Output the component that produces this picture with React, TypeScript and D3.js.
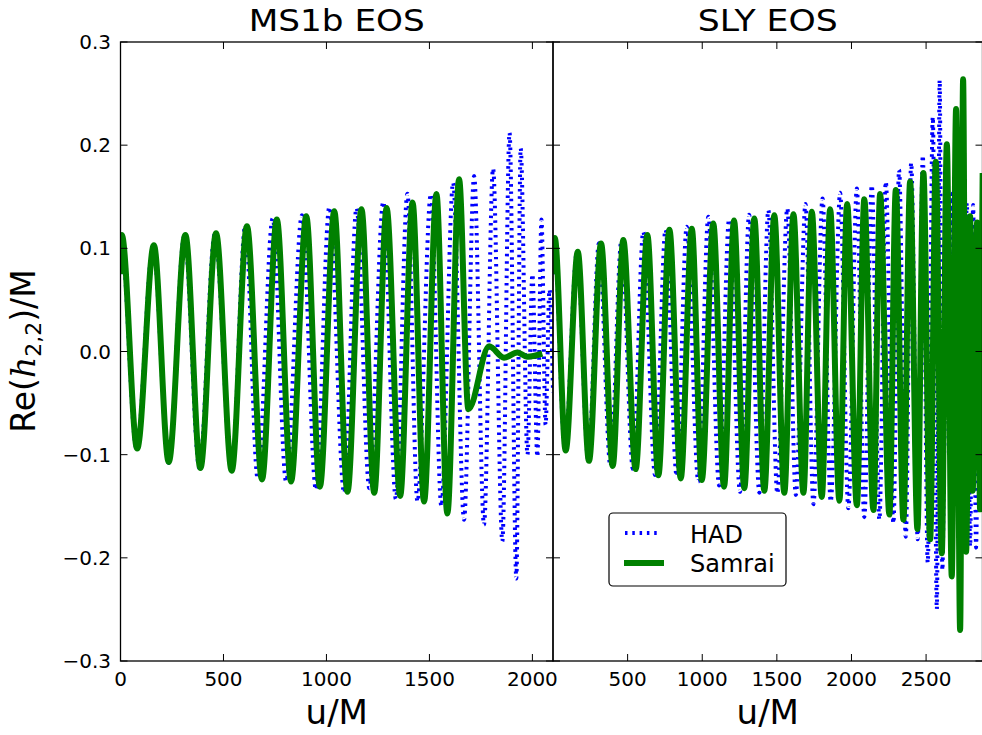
import React from "react";
import * as d3 from "d3";

const W = 982;
const H = 735;

// ---- Data: extrema of Re(h22)/M vs u/M ----
// MS1b EOS, HAD (dotted blue)
const ms1bHadU = [0, 2, 78, 158, 234, 310, 383, 458, 540, 606, 666, 739, 804, 881, 949, 1014, 1086, 1146, 1208, 1276, 1337, 1393, 1442, 1507, 1558, 1615, 1668, 1717, 1765, 1809, 1854, 1889, 1922, 1943, 1976, 2000, 2024, 2044, 2064, 2083, 2100];
const ms1bHadV = [0.075, 0.112, -0.094, 0.102, -0.108, 0.112, -0.113, 0.114, -0.116, 0.1225, -0.123, 0.129, -0.126, 0.132, -0.134, 0.14, -0.137, 0.139, -0.1325, 0.145, -0.143, 0.153, -0.1455, 0.1526, -0.15, 0.1636, -0.163, 0.17, -0.168, 0.1775, -0.184, 0.212, -0.22, 0.197, -0.1, 0.075, -0.102, 0.128, -0.071, 0.06, -0.04];
// MS1b EOS, Samrai (solid green)
const ms1bSamraiU = [0, 6, 81, 162, 234, 315, 388, 464, 540, 614, 687, 759, 828, 902, 968, 1038, 1102, 1170, 1232, 1292, 1358, 1418, 1474, 1534, 1587, 1644, 1689, 1790, 1862, 1927, 1974, 2048];
const ms1bSamraiV = [0.075, 0.113, -0.094, 0.103, -0.107, 0.113, -0.113, 0.1145, -0.1155, 0.1215, -0.124, 0.128, -0.126, 0.131, -0.131, 0.136, -0.136, 0.138, -0.137, 0.139, -0.14, 0.1445, -0.1455, 0.1526, -0.157, 0.167, -0.056, 0.005, -0.006, -0.001, -0.005, -0.002];
// SLY EOS, HAD (dotted blue)
const slyHadU = [0, 8, 80, 161, 237, 308, 385, 459, 536, 605, 684, 754, 829, 896, 974, 1041, 1113, 1180, 1253, 1314, 1383, 1443, 1503, 1570, 1627, 1692, 1745, 1806, 1861, 1924, 1979, 2036, 2086, 2136, 2187, 2230, 2281, 2319, 2364, 2400, 2444, 2478, 2511, 2545, 2572, 2591, 2609, 2634, 2654, 2676, 2701, 2721, 2745, 2773, 2795, 2815, 2835, 2855, 2879];
const slyHadV = [0.075, 0.11, -0.094, 0.097, -0.105, 0.105, -0.111, 0.108, -0.114, 0.116, -0.1197, 0.118, -0.121, 0.121, -0.126, 0.1306, -0.13, 0.128, -0.136, 0.1325, -0.137, 0.137, -0.1375, 0.1388, -0.139, 0.143, -0.148, 0.1484, -0.1455, 0.1539, -0.152, 0.158, -0.1607, 0.161, -0.163, 0.1645, -0.1665, 0.176, -0.1795, 0.183, -0.182, 0.19, -0.2046, 0.2275, -0.2498, 0.263, -0.212, 0.12, -0.1, 0.153, -0.12, 0.13, -0.15, 0.144, -0.189, 0.142, -0.19, 0.08, -0.1];
// SLY EOS, Samrai (solid green)
const slySamraiU = [0, 12, 85, 166, 241, 322, 400, 471, 554, 632, 706, 780, 856, 930, 997, 1074, 1146, 1213, 1282, 1349, 1416, 1483, 1550, 1611, 1678, 1734, 1801, 1857, 1919, 1971, 2036, 2086, 2147, 2192, 2254, 2297, 2348, 2393, 2442, 2482, 2527, 2565, 2605, 2639, 2672, 2701, 2728, 2748, 2768, 2795, 2812, 2842, 2862, 2879];
const slySamraiV = [0.075, 0.11, -0.096, 0.0967, -0.106, 0.1048, -0.111, 0.108, -0.114, 0.113, -0.12, 0.118, -0.123, 0.119, -0.1245, 0.124, -0.131, 0.127, -0.1326, 0.129, -0.135, 0.132, -0.137, 0.133, -0.137, 0.1355, -0.141, 0.138, -0.1446, 0.143, -0.149, 0.1475, -0.1536, 0.1526, -0.158, 0.1565, -0.163, 0.1645, -0.172, 0.173, -0.182, 0.184, -0.1955, 0.201, -0.218, 0.235, -0.27, 0.264, -0.194, 0.131, -0.135, 0.125, -0.153, 0.173];

const ms1bTicks = [0, 500, 1000, 1500, 2000];
const slyTicks = [500, 1000, 1500, 2000, 2500];
const slyTopTicks = [500, 1000, 1500, 2000, 2500];
const yTicks = [-0.3, -0.2, -0.1, 0.0, 0.1, 0.2, 0.3];
const titles = ["MS1b EOS", "SLY EOS"];
const seriesNames = ["HAD", "Samrai"];
const xLabel = "u/M";

const FONT = "DejaVu Sans, Verdana, sans-serif";
const BLUE = "#0000ff";
const GREEN = "#008000";

const yScale = d3.scaleLinear().domain([-0.3, 0.3]).range([661, 42]);

type Panel = {
  key: string;
  title: string;
  titleWidth: number;
  x: d3.ScaleLinear<number, number>;
  ticks: number[];
  labels: number[];
  had: [number, number][];
  samrai: [number, number][];
};

const zip = (u: number[], v: number[]) => u.map((d, i) => [d, v[i]] as [number, number]);

const panels: Panel[] = [
  {
    key: "ms1b",
    title: titles[0],
    titleWidth: 176,
    x: d3.scaleLinear().domain([0, 2100]).range([120.5, 553]),
    ticks: ms1bTicks,
    labels: ms1bTicks,
    had: zip(ms1bHadU, ms1bHadV),
    samrai: zip(ms1bSamraiU, ms1bSamraiV),
  },
  {
    key: "sly",
    title: titles[1],
    titleWidth: 140,
    x: d3.scaleLinear().domain([0, 2878]).range([553, 982.5]),
    ticks: slyTopTicks,
    labels: slyTicks,
    had: zip(slyHadU, slyHadV),
    samrai: zip(slySamraiU, slySamraiV),
  },
];

const fmtY = (v: number) => {
  const s = Math.abs(v).toFixed(1);
  return v < -1e-9 ? "\u2212" + s : s;
};

export default function App() {
  const top = 42;
  const bottom = 661;
  const tickLen = 7;
  return (
    <svg
      width={W}
      height={H}
      viewBox={`0 0 ${W} ${H}`}
      style={{ position: "absolute", left: 0, top: 0, background: "#fff" }}
      fontFamily={FONT}
    >
      <rect x={0} y={0} width={W} height={H} fill="#fff" />
      <defs>
        {panels.map((p) => (
          <clipPath id={`clip-${p.key}`} key={p.key}>
            <rect x={p.x.range()[0]} y={top} width={p.x.range()[1] - p.x.range()[0]} height={bottom - top} />
          </clipPath>
        ))}
      </defs>
      {panels.map((p) => {
        const line = d3
          .line<[number, number]>()
          .x((d) => p.x(d[0]))
          .y((d) => yScale(d[1]))
          .curve(d3.curveMonotoneX);
        const [x0, x1] = p.x.range();
        return (
          <g key={p.key}>
            <g clipPath={`url(#clip-${p.key})`}>
              <path
                d={line(p.had) || ""}
                fill="none"
                stroke={BLUE}
                strokeWidth={4}
                strokeDasharray="2.5 4.8"
              />
              <path
                d={line(p.samrai) || ""}
                fill="none"
                stroke={GREEN}
                strokeWidth={6}
                strokeLinejoin="round"
              />
            </g>
            <rect x={x0} y={top} width={x1 - x0} height={bottom - top} fill="none" stroke="#000" strokeWidth={1.3} />
            {p.ticks.map((t) => (
              <g key={`xt${t}`}>
                <line x1={p.x(t)} x2={p.x(t)} y1={bottom} y2={bottom - tickLen} stroke="#000" strokeWidth={1} />
                <line x1={p.x(t)} x2={p.x(t)} y1={top} y2={top + tickLen} stroke="#000" strokeWidth={1} />
              </g>
            ))}
            {p.labels.map((t) => (
              <text key={`xl${t}`} x={p.x(t)} y={686} textAnchor="middle" fontSize={20} fill="#000">
                {t}
              </text>
            ))}
            {yTicks.map((v) => (
              <g key={`yt${v}`}>
                <line x1={x0} x2={x0 + tickLen} y1={yScale(v)} y2={yScale(v)} stroke="#000" strokeWidth={1} />
                <line x1={x1} x2={x1 - tickLen} y1={yScale(v)} y2={yScale(v)} stroke="#000" strokeWidth={1} />
              </g>
            ))}
            <text
              x={(x0 + x1) / 2}
              y={30.5}
              textAnchor="middle"
              fontSize={31}
              textLength={p.titleWidth}
              lengthAdjust="spacingAndGlyphs"
              fill="#000"
            >
              {p.title}
            </text>
            <text x={(x0 + x1) / 2} y={724} textAnchor="middle" fontSize={34} fill="#000">
              {xLabel}
            </text>
          </g>
        );
      })}
      {yTicks.map((v) => (
        <text key={`yl${v}`} x={111} y={yScale(v) + 7} textAnchor="end" fontSize={20} fill="#000">
          {fmtY(v)}
        </text>
      ))}
      <text transform="translate(35,351) rotate(-90)" textAnchor="middle" fontSize={33} fill="#000">
        Re(
        <tspan fontFamily="DejaVu Serif, serif" fontStyle="italic">h</tspan>
        <tspan fontSize={22} dy={6}>2,2</tspan>
        <tspan dy={-6}>)/M</tspan>
      </text>
      <g>
        <rect x={609} y={513} width={177} height={73} rx={4} ry={4} fill="#fff" stroke="#000" strokeWidth={1.2} />
        <line x1={625} x2={661} y1={533} y2={533} stroke={BLUE} strokeWidth={4} strokeDasharray="2.5 4.8" />
        <line x1={624} x2={664} y1={563} y2={563} stroke={GREEN} strokeWidth={6} />
        <text x={690} y={543} fontSize={24} fill="#000">{seriesNames[0]}</text>
        <text x={690} y={572} fontSize={24} fill="#000">{seriesNames[1]}</text>
      </g>
    </svg>
  );
}
